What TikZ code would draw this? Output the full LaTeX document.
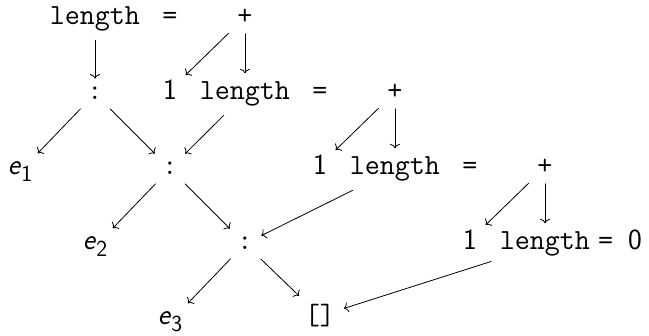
\documentclass[tikz,border=0pt]{standalone}
\usepackage{fix-cm}
\usetikzlibrary{arrows.meta}
\newcommand{\evar}[1]{\textit{e}\raisebox{-6.5pt}{\fontsize{23}{27}\selectfont #1}}
\newcommand{\cmtt}{\fontencoding{OT1}\fontfamily{cmtt}\selectfont}
\newcommand{\sfnum}[1]{{\fontencoding{TU}\sffamily\selectfont #1}}
\begin{document}
\begin{tikzpicture}[x=1pt, y=-1pt, line width=0.8pt, line cap=round, line join=round,
    lbl/.style={anchor=base, inner sep=8.8pt, outer sep=0pt},
    ttlbl/.style={lbl, font=\fontsize{29.2}{36.5}\selectfont\cmtt},
    sflbl/.style={lbl, font=\fontsize{29.2}{36.5}\selectfont\sffamily},
    arr/.style={-{To[length=4.5pt, width=10pt]}}]

  %% ════ 第 0 行（基线 y=25）════
  \node[ttlbl] (len0)  at (95,25)  {length};
  \node[ttlbl] (eq0)   at (170,25) {=};
  \node[ttlbl] (plus0) at (245,25) {+};

  %% ════ 第 1 行（基线 y=100）════
  \node[ttlbl] (cons1) at (95,100)  {:};
  \node[sflbl] (one1)  at (170,100) {1};
  \node[ttlbl] (len1)  at (245,100) {length};
  \node[ttlbl] (eq1)   at (320,100) {=};
  \node[ttlbl] (plus1) at (395,100) {+};

  %% ════ 第 2 行（基线 y=175）════
  \node[sflbl] (e1)    at (20,175)  {\evar{1}};
  \node[ttlbl] (cons2) at (170,175) {:};
  \node[sflbl] (one2)  at (320,175) {1};
  \node[ttlbl] (len2)  at (395,175) {length};
  \node[ttlbl] (eq2)   at (470,175) {=};
  \node[ttlbl] (plus2) at (545,175) {+};

  %% ════ 第 3 行（基线 y=250）════
  \node[sflbl] (e2)    at (95,250)  {\evar{2}};
  \node[ttlbl] (cons3) at (245,250) {:};
  \node[sflbl] (one3)  at (470,250) {1};
  \node[ttlbl] (len3)  at (545,250) {length};
  \node[ttlbl] (eqz3)  at (620,250) {=~\sfnum{0}};

  %% ════ 第 4 行（基线 y=325）════
  \node[sflbl] (e3)    at (170,325) {\evar{3}};
  \node[ttlbl] (nil)   at (320,325) {[]};

  %% ════ 箭头 ════
  \draw[arr] (len0) -- (cons1);
  \draw[arr] (plus0) -- (one1);
  \draw[arr] (plus0) -- (len1);
  \draw[arr] (cons1) -- (e1);
  \draw[arr] (cons1) -- (cons2);
  \draw[arr] (len1) -- (cons2);
  \draw[arr] (plus1) -- (one2);
  \draw[arr] (plus1) -- (len2);
  \draw[arr] (cons2) -- (e2);
  \draw[arr] (cons2) -- (cons3);
  \draw[arr] (len2) -- (cons3);
  \draw[arr] (plus2) -- (one3);
  \draw[arr] (plus2) -- (len3);
  \draw[arr] (cons3) -- (e3);
  \draw[arr] (cons3) -- (nil);
  \draw[arr] (len3) -- (nil);

  % 钉死画布，与参考图 649x336 一比一
  \pgfresetboundingbox
  \path[use as bounding box] (0,0) rectangle (649,336);
\end{tikzpicture}
\end{document}
